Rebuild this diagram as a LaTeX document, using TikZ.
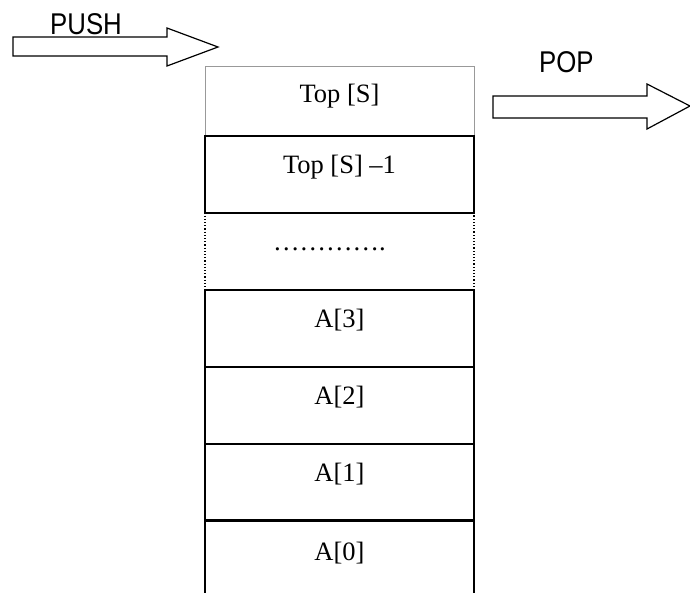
\documentclass[tikz,border=0pt]{standalone}
\usepackage{fontspec}
\setmainfont{Liberation Serif}
\newfontfamily\labelsans{Liberation Sans}
\usetikzlibrary{calc}
\begin{document}
\begin{tikzpicture}[x=1pt,y=-1pt,
  cell/.style={draw=black,line width=1.2pt,minimum width=269pt,minimum height=77pt,
    inner sep=0pt,outer sep=0pt,anchor=north west},
  celltext/.style={anchor=base,font=\fontsize{26.5}{29}\selectfont,inner sep=0pt},
  opname/.style={anchor=base west,font=\labelsans\fontsize{30}{33}\selectfont,xscale=0.86,inner sep=0pt},
  blockarrow/.style={draw=black,line width=1.2pt,fill=white,line join=miter}]
\useasboundingbox (0,0) rectangle (690,592);

% stack cells, top to bottom
\node[cell,draw=gray!80,line width=0.8pt,minimum height=70pt] (top) at (205,66) {};
\node[cell] (topm1) at (205,136) {};
\node[cell,dotted] (gap) at (205,213) {};
\node[cell] (a3) at (205,290) {};
\node[cell] (a2) at (205,367) {};
\node[cell] (a1) at (205,444) {};
% bottom cell is open at its lower edge
\node[cell,draw=none,minimum height=74pt] (a0) at (205,520) {};
\draw[line width=1.2pt] (a0.south west) -- (a0.north west) -- (a0.north east) -- (a0.south east);

% cell labels
\node[celltext] at ($(top.north)+(0,36)$) {Top [S]};
\node[celltext] at ($(topm1.north)+(0,37)$) {Top [S] –1};
\node[celltext] at ($(gap.north)+(-10,37)$) {………….};
\node[celltext] at ($(a3.north)+(0,37)$) {A[3]};
\node[celltext] at ($(a2.north)+(0,37)$) {A[2]};
\node[celltext] at ($(a1.north)+(0,37)$) {A[1]};
\node[celltext] at ($(a0.north)+(0,40)$) {A[0]};

% push arrow
\draw[blockarrow] (13,37) -- (167,37) -- (167,28) -- (218,47) -- (167,66) -- (167,56) -- (13,56) -- cycle;
\node[opname] (push) at (50,34) {PUSH};

% pop arrow
\draw[blockarrow] (493,96) -- (647,96) -- (647,84) -- (690,106) -- (647,129) -- (647,118) -- (493,118) -- cycle;
\node[opname] (pop) at (539,72) {POP};
\end{tikzpicture}
\end{document}
